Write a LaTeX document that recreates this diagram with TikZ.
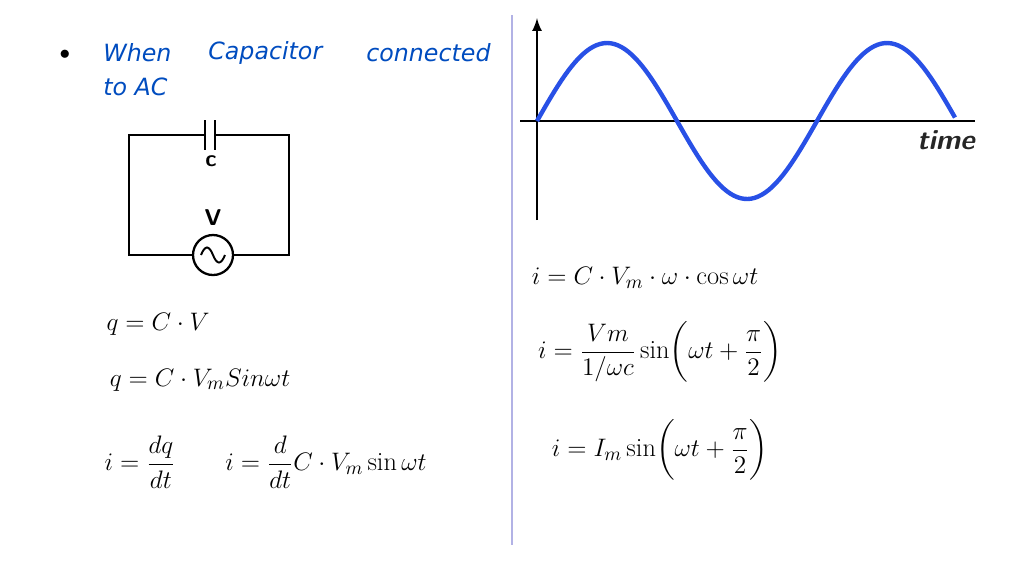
\documentclass[tikz,border=0pt]{standalone}
\usepackage{amsmath}
\usepackage{fontspec}
\newfontfamily\hand{DejaVu Sans}
\definecolor{wave}{RGB}{40,80,230}
\begin{document}
\begin{tikzpicture}[x=0.02cm,y=-0.02cm,
  eq/.style={inner sep=0pt,font=\fontsize{15}{18}\selectfont},
  hw/.style={inner sep=0pt,anchor=west,text=blue!60!cyan!75!black,font=\hand\itshape\fontsize{13.5}{16}\selectfont},
  wire/.style={line width=1.3pt}]
\useasboundingbox (0,0) rectangle (1024,576);
\draw[gray!50!blue!40,line width=1pt] (512,15) -- (512,545);
\node[inner sep=0pt,font=\fontsize{12}{14}\selectfont] (b) at (65,55) {$\bullet$};
\node[hw] (w1) at (103,53) {When};
\node[hw] (w2) at (208,53) {Capacitor};
\node[hw] (w3) at (366,53) {connected};
\node[hw] (w4) at (103,87) {to AC};
% circuit
\coordinate (pl) at (205,135); \coordinate (pr) at (215,135);
\draw[wire] (pl) -- (129,135) -- (129,255) -- (193,255);
\draw[wire] (pr) -- (289,135) -- (289,255) -- (233,255);
\draw[wire] (205,120) -- (205,150) (215,120) -- (215,150);
\node[circle,draw,line width=1.3pt,minimum size=40*0.02cm,inner sep=0pt] (src) at (213,255) {};
\draw[line width=1.1pt] (201,255) .. controls (205,245) and (209,245) .. (213,255) .. controls (217,265) and (221,265) .. (225,255);
\node[inner sep=0pt,font=\sffamily\bfseries\fontsize{13}{15}\selectfont] (c) at (211,161) {c};
\node[inner sep=0pt,font=\sffamily\bfseries\fontsize{13}{15}\selectfont] (v) at (213,218) {V};
% graph
\coordinate (o) at (537,121);
\draw[line width=1.5pt,-latex] (537,220) -- (537,18);
\draw[line width=1.5pt] (520,121) -- (975,121);
\draw[wave,line width=2.5pt,domain=0:418,samples=120] plot ({537+\x},{121-78*sin(\x*1.285714)});
\node[inner sep=0pt,text=black!85,font=\sffamily\bfseries\itshape\fontsize{16}{18}\selectfont] (t) at (946,140) {time};
% equations
\node[eq] (e1) at (645,278) {$i=C\cdot V_m\cdot\omega\cdot\cos\omega t$};
\node[eq] (e2) at (660,352) {$i=\dfrac{Vm}{1/\omega c}\sin\biggl(\omega t+\dfrac{\pi}{2}\biggr)$};
\node[eq] (e3) at (660,450) {$i=I_m\sin\biggl(\omega t+\dfrac{\pi}{2}\biggr)$};
\node[eq] (e4) at (158,324) {$q=C\cdot V$};
\node[eq] (e5) at (200,380) {$q=C\cdot V_m Sin\omega t$};
\node[eq] (e6) at (140,462) {$i=\dfrac{dq}{dt}$};
\node[eq] (e7) at (326,462) {$i=\dfrac{d}{dt}C\cdot V_m\sin\omega t$};
\end{tikzpicture}
\end{document}
